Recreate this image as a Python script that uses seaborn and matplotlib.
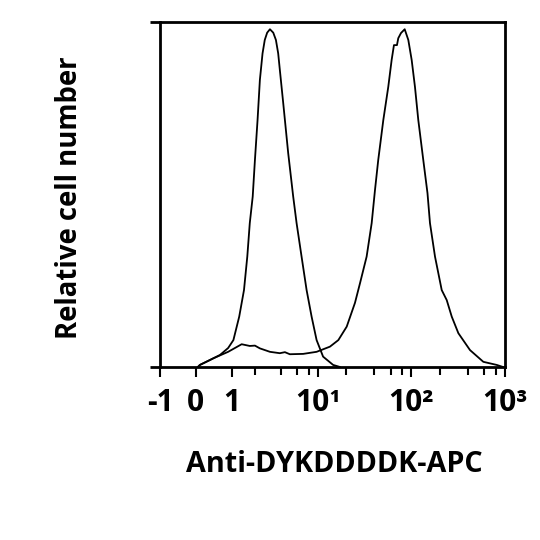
"""
Flow cytometry overlay: Anti-DYKDDDDK-APC staining vs control.
"""

import matplotlib
matplotlib.use("Agg")
import matplotlib.pyplot as plt
import seaborn as sns

# fluorescence (x) and relative cell number (% of axis height)
control_x = [0.05, 0.10, 0.35, 0.63, 0.88, 1.06, 1.28, 1.48, 1.63, 1.75, 1.90,
             2.02, 2.17, 2.31, 2.48, 2.63, 2.80, 3.01, 3.28, 3.51, 3.72, 3.88,
             4.23, 4.79, 5.43, 5.91, 6.69, 7.58, 8.58, 9.71, 11.4, 14.6, 17.3]
control_y = [0, 0.6, 2.0, 3.5, 5.5, 7.8, 14.6, 22.3, 32.0, 41.7, 49.4,
             60.0, 71.6, 83.2, 90.9, 94.8, 96.9, 97.9, 96.9, 94.8, 90.9, 86.1,
             76.4, 62.0, 49.4, 41.7, 32.0, 22.3, 14.6, 7.8, 3.0, 0.6, 0]

stained_x = [0.05, 0.10, 0.44, 0.88, 1.38, 1.75, 2.02, 2.31, 3.01, 3.88,
             4.41, 4.99, 6.96, 9.71, 13.5, 16.6, 20.4, 25.0, 28.3, 33.3,
             37.7, 40.9, 44.3, 50.2, 56.7, 61.6, 65.2, 70.2, 72.5, 77.5,
             84.9, 92.8, 100.8, 109.3, 118.6, 134.1, 148.7, 158.1, 178.9, 211,
             238.6, 270, 317.7, 423, 587, 816, 953]
stained_y = [0, 0.6, 2.5, 4.4, 6.6, 6.1, 6.2, 5.4, 4.4, 4.0,
             4.3, 3.7, 3.8, 4.4, 5.9, 7.8, 11.7, 18.6, 24.3, 32.0,
             41.7, 51.3, 60.0, 71.6, 81.2, 89.0, 93.3, 93.3, 95.3, 96.8,
             97.9, 94.8, 89.0, 81.2, 71.6, 60.0, 50.4, 41.7, 32.0, 22.3,
             19.4, 14.6, 9.8, 4.9, 1.5, 0.6, 0]

major_ticks = [-1, 0, 1, 10, 100, 1000]
major_labels = ["-1", "0", "1", "10\u00b9", "10\u00b2", "10\u00b3"]
minor_ticks = [2, 4, 6, 8, 20, 40, 60, 80, 200, 400, 600, 800]


def main():
    sns.set_style("ticks")
    plt.rcParams["font.family"] = ["Open Sans", "DejaVu Sans"]
    plt.rcParams["font.weight"] = "bold"
    plt.rcParams["text.color"] = "black"
    plt.rcParams["axes.labelcolor"] = "black"
    plt.rcParams["xtick.color"] = "black"
    plt.rcParams["ytick.color"] = "black"

    fig = plt.figure(figsize=(5.4, 5.4), dpi=100)
    ax = fig.add_axes([160 / 540, 1 - 367 / 540, 345 / 540, 345 / 540])

    sns.lineplot(x=control_x, y=control_y, sort=False, estimator=None,
                 color="black", linewidth=1.3, ax=ax)
    sns.lineplot(x=stained_x, y=stained_y, sort=False, estimator=None,
                 color="black", linewidth=1.3, ax=ax)

    ax.set_xscale("asinh", linear_width=1)
    ax.set_xlim(-1, 1000)
    ax.set_ylim(0, 100)

    ax.set_xticks(major_ticks)
    ax.set_xticklabels(major_labels, fontsize=21.5, fontweight="bold",
                       va="baseline", color="black")
    ax.set_xticks(minor_ticks, minor=True)
    ax.set_yticks([0, 100])
    ax.set_yticklabels([])

    for side in ["left", "right", "top", "bottom"]:
        ax.spines[side].set_visible(True)
        ax.spines[side].set_linewidth(2)
        ax.spines[side].set_color("black")

    ax.tick_params(axis="x", which="major", direction="out", length=7.2,
                   width=1.5, color="black", labelcolor="black", pad=24.5)
    ax.tick_params(axis="x", which="minor", direction="out", length=5.5,
                   width=1.5, color="black")
    ax.tick_params(axis="y", which="major", direction="out", length=7.2,
                   width=2, color="black")

    ax.set_xlabel("Anti-DYKDDDDK-APC", fontsize=20.7, fontweight="bold",
                  va="baseline", color="black")
    ax.xaxis.set_label_coords(0.505, -105 / 345)
    ax.set_ylabel("Relative cell number", fontsize=19.8, fontweight="bold",
                  va="baseline", color="black")
    ax.yaxis.set_label_coords(-83 / 345, 0.49)

    fig.savefig("out.png", dpi=100)


if __name__ == "__main__":
    main()
